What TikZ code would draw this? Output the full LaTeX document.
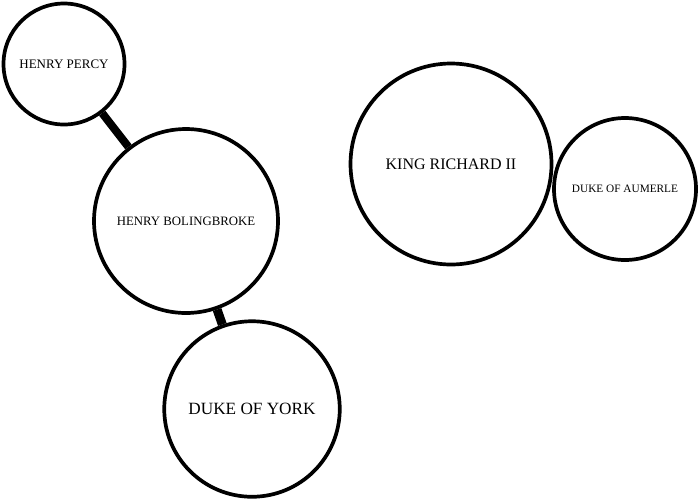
\documentclass[tikz,border=0pt]{standalone}
\usepackage{fontspec}
\setmainfont{Liberation Serif}

\begin{document}
\begin{tikzpicture}[x=1pt, y=-1pt,
        person/.style={circle, draw, line width=3.7pt, inner sep=0pt, align=center},
        tie/.style={line width=8pt}
    ]
            \useasboundingbox (0,0) rectangle (700,499);
            \node[person, minimum size=121pt, font=\fontsize{13}{15}\selectfont] (percy) at (64,64) {HENRY PERCY};
            \node[person, minimum size=184pt, font=\fontsize{12.8}{15}\selectfont] (boling) at (186,221) {HENRY BOLINGBROKE};
            \node[person, minimum size=175.5pt, font=\fontsize{17.2}{20}\selectfont] (york) at (252,409) {DUKE OF YORK};
            \node[person, minimum size=201pt, font=\fontsize{16}{19}\selectfont] (richard) at (451,164) {KING RICHARD II};
            \node[person, minimum size=142pt, font=\fontsize{11.3}{13}\selectfont] (aumerle) at (625,189) {DUKE OF AUMERLE};
            \draw[tie] (percy) -- (boling);
            \draw[tie, line width=9pt] (boling) -- (york);
        \end{tikzpicture}
\end{document}
